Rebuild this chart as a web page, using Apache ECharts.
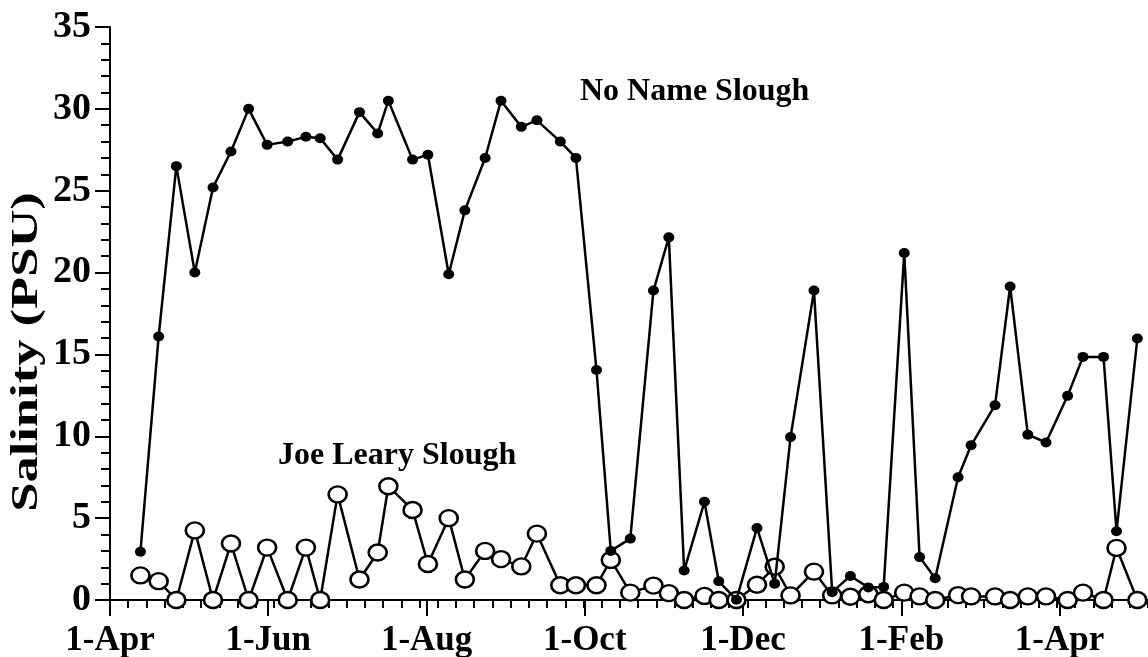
<!DOCTYPE html>
<html>
<head>
<meta charset="utf-8">
<script src="https://cdn.jsdelivr.net/npm/echarts@6/dist/echarts.min.js"></script>
<style>
html,body{margin:0;padding:0;background:#fff;}
#chart{width:1148px;height:657px;}
</style>
</head>
<body>
<div id="chart"></div>
<script>
// Sampling days, counted in days from 1-Apr (start of record)
const sampleDay = [11.7, 18.7, 25.5, 32.6, 39.6, 46.5, 53.3, 60.4, 68.3, 75.3,
  80.8, 87.5, 95.9, 102.9, 107.0, 116.3, 122.2, 130.2, 136.4, 144.2,
  150.3, 158.1, 164.1, 173.1, 179.1, 187.0, 192.5, 200.0, 208.9, 214.8,
  220.7, 228.5, 234.0, 240.8, 248.7, 255.5, 261.6, 270.6, 277.6, 284.6,
  291.5, 297.4, 305.3, 311.2, 317.2, 326.0, 331.0, 340.2, 346.0, 352.8,
  359.8, 368.1, 374.0, 381.9, 386.9, 394.9];

const noNameSalinity = [2.95, 16.1, 26.5, 20.0, 25.2, 27.4, 30.0, 27.8, 28.0, 28.3,
  28.2, 26.9, 29.8, 28.5, 30.5, 26.9, 27.2, 19.9, 23.8, 27.0,
  30.5, 28.9, 29.3, 28.0, 27.0, 14.05, 3.0, 3.75, 18.9, 22.15,
  1.8, 6.0, 1.14, 0.02, 4.4, 1.0, 9.95, 18.9, 0.48, 1.47,
  0.77, 0.8, 21.2, 2.62, 1.33, 7.5, 9.45, 11.9, 19.15, 10.1,
  9.62, 12.47, 14.85, 14.85, 4.2, 15.97];

const joeLearySalinity = [1.5, 1.15, 0, 4.25, 0, 3.45, 0, 3.2, 0, 3.2,
  0, 6.45, 1.25, 2.9, 6.95, 5.5, 2.2, 5.0, 1.25, 3.0,
  2.5, 2.05, 4.05, 0.9, 0.9, 0.9, 2.45, 0.45, 0.88, 0.42,
  0, 0.25, 0, 0, 0.93, 2.03, 0.28, 1.73, 0.28, 0.2,
  0.35, 0, 0.45, 0.22, 0, 0.3, 0.22, 0.22, 0, 0.22,
  0.22, 0, 0.45, 0, 3.18, 0];

const majorTickDay = [0, 60.8, 121.7, 182.5, 243.3, 304.2, 365];
const majorTickLabel = ['1-Apr', '1-Jun', '1-Aug', '1-Oct', '1-Dec', '1-Feb', '1-Apr'];
const yTicks = [0, 5, 10, 15, 20, 25, 30, 35];

const FONT = '"Liberation Serif", "Times New Roman", serif';
const chart = echarts.init(document.getElementById('chart'), null, {renderer: 'canvas'});

const noNameData = sampleDay.map((d, i) => [d, noNameSalinity[i]]);
const joeData = sampleDay.map((d, i) => [d, joeLearySalinity[i]]);

const option = {
  backgroundColor: '#fff',
  animation: false,
  grid: {left: 110, right: 0, top: 27, bottom: 57, containLabel: false, outerBoundsMode: 'none'},
  xAxis: [{
    type: 'value', min: 0, max: 399, position: 'bottom',
    axisLine: {show: true, onZero: false, lineStyle: {color: '#000', width: 2}},
    axisTick: {show: true, inside: false, length: 16, customValues: majorTickDay, lineStyle: {color: '#000', width: 2}},
    axisLabel: {
      show: true, customValues: majorTickDay, margin: 23,
      fontFamily: FONT, fontWeight: 'bold', fontSize: 35, color: '#000',
      formatter: function (v) {
        const i = majorTickDay.findIndex(d => Math.abs(d - v) < 0.5);
        return i >= 0 ? majorTickLabel[i] : '';
      }
    },
    splitLine: {show: false}, minorTick: {show: false}
  }, {
    type: 'value', min: 0, max: 399, interval: 7, position: 'bottom',
    axisLine: {show: false},
    axisTick: {show: true, inside: false, length: 8, lineStyle: {color: '#000', width: 2}},
    axisLabel: {show: false},
    splitLine: {show: false}
  }],
  yAxis: {
    type: 'value', min: 0, max: 35, interval: 5,
    axisLine: {show: true, onZero: false, lineStyle: {color: '#000', width: 2}},
    axisTick: {show: true, inside: false, length: 15, lineStyle: {color: '#000', width: 2}},
    minorTick: {show: true, splitNumber: 5, length: 9, lineStyle: {color: '#000', width: 2}},
    axisLabel: {
      show: true, margin: 19, fontFamily: FONT, fontWeight: 'bold', fontSize: 38, color: '#000',
      customValues: yTicks
    },
    splitLine: {show: false}, minorSplitLine: {show: false}
  },
  series: [{
    name: 'Joe Leary Slough', type: 'line', xAxisIndex: 0, data: joeData,
    symbol: 'circle', symbolSize: [18, 16], showSymbol: true,
    itemStyle: {color: '#fff', borderColor: '#000', borderWidth: 2.5},
    lineStyle: {color: '#000', width: 2.5},
    z: 2, emphasis: {disabled: true}
  }, {
    name: 'No Name Slough', type: 'line', xAxisIndex: 0, data: noNameData,
    symbol: 'circle', symbolSize: [11, 10], showSymbol: true,
    itemStyle: {color: '#000', borderWidth: 0},
    lineStyle: {color: '#000', width: 2.5},
    z: 3, emphasis: {disabled: true}
  }],
  graphic: [{
    type: 'text', x: 27, y: 352, rotation: Math.PI / 2, scaleX: 1.42,
    style: {text: 'Salinity (PSU)', font: 'bold 37px ' + FONT, fill: '#000',
      textAlign: 'center', textVerticalAlign: 'middle'}
  }, {
    type: 'text', x: 580, y: 92,
    style: {text: 'No Name Slough', font: 'bold 32px ' + FONT, fill: '#000',
      textAlign: 'left', textVerticalAlign: 'middle'}
  }, {
    type: 'text', x: 278, y: 456,
    style: {text: 'Joe Leary Slough', font: 'bold 32px ' + FONT, fill: '#000',
      textAlign: 'left', textVerticalAlign: 'middle'}
  }]
};
chart.setOption(option);
</script>
</body>
</html>
